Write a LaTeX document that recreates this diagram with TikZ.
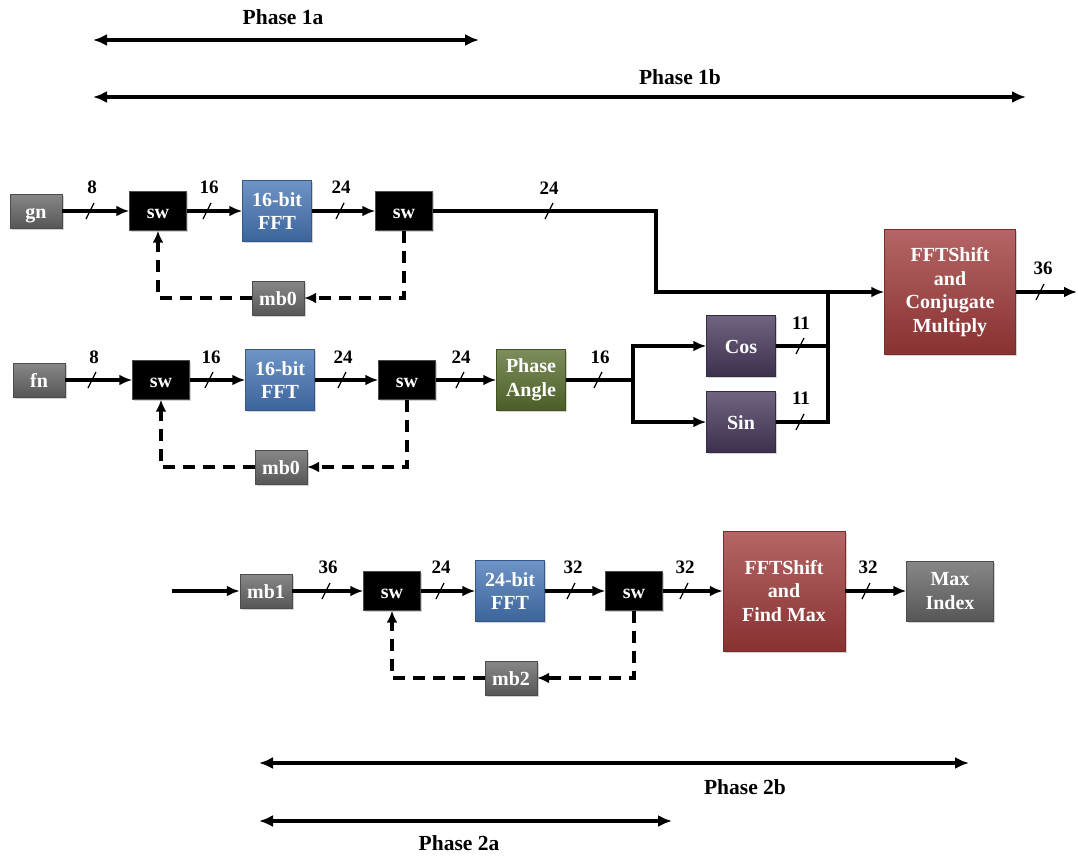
\documentclass[tikz,border=0pt]{standalone}
\usepackage{fontspec}
\setmainfont{Liberation Serif}
\usetikzlibrary{arrows.meta,shadows}
\newcommand\xc[1]{\smash{\raisebox{-2.5pt}{#1}}\vphantom{x}}
\begin{document}
\begin{tikzpicture}[x=1pt,y=-1pt,
  ln/.style={line width=3.2pt},
  arr/.style={ln,-{Latex[length=13pt,width=11pt]}},
  darr/.style={ln,dash pattern=on 12pt off 8pt,-{Latex[length=12pt,width=11pt]}},
  phasearr/.style={line width=3.2pt,{Latex[length=14pt,width=12pt]}-{Latex[length=14pt,width=12pt]}},
  phaselbl/.style={font=\fontsize{21.5}{24}\selectfont\bfseries},
  buslbl/.style={font=\fontsize{19}{21}\selectfont\bfseries},
  slash/.style={line width=1.3pt},
  box/.style={rectangle,inner sep=0pt,align=center,text=white,
     font=\fontsize{20}{23.5}\selectfont\bfseries,
     drop shadow={shadow xshift=1.5pt,shadow yshift=-1.5pt,opacity=0.35}},
  bevel/.style={top color=#1!78!white,middle color=#1,bottom color=#1!85!black,draw=#1!75!black},
  graybox/.style={box,bevel=gray1,minimum width=52pt,minimum height=34pt},
  swbox/.style={box,minimum width=57pt,minimum height=39pt,fill=black,draw=black!70},
  fftbox/.style={box,bevel=blue1,minimum width=69pt,minimum height=61pt},
  greenbox/.style={box,bevel=green1,minimum width=69pt,minimum height=61pt},
  purpbox/.style={box,bevel=purp1,minimum width=69pt,minimum height=61pt},
  redbox/.style={box,bevel=red1},
]
\definecolor{gray1}{RGB}{102,102,102}
\definecolor{blue1}{RGB}{70,118,182}
\definecolor{green1}{RGB}{88,110,46}
\definecolor{purp1}{RGB}{72,56,92}
\definecolor{red1}{RGB}{160,58,58}
\useasboundingbox (0,0) rectangle (1078,856);

% phases top
\node[phaselbl] (p1a) at (283,17) {Phase 1a};
\coordinate (p1aL) at (93,40); \coordinate (p1aR) at (479,40);
\draw[phasearr] (p1aL) -- (p1aR);
\node[phaselbl] (p1b) at (680,77) {Phase 1b};
\coordinate (p1bL) at (93,97); \coordinate (p1bR) at (1026,97);
\draw[phasearr] (p1bL) -- (p1bR);

% row 1
\node[graybox] (gn) at (36,211) {\xc{gn}};
\node[swbox] (sw1) at (158,211) {\xc{sw}};
\node[fftbox] (fft1) at (277,211) {16-bit\\FFT};
\node[swbox] (sw2) at (404,211) {\xc{sw}};
\node[graybox] (mb0a) at (278,298) {\xc{mb0}};
\node[redbox,minimum width=131pt,minimum height=125pt] (cm) at (950,292) {FFTShift\\and\\Conjugate\\Multiply};

\draw[arr] (gn) -- (sw1);
\draw[arr] (sw1) -- (fft1);
\draw[arr] (fft1) -- (sw2);
\coordinate (t1) at (656,211);
\draw[arr] (sw2) -- (t1) |- (cm.west);
\coordinate (o1) at (1077,292);
\draw[arr] (cm.east) -- (o1);
\draw[darr] (sw2.south) |- (mb0a.east);
\draw[darr] (mb0a.west) -| (sw1.south);

\node[buslbl] at (92,187) {8};
\node[buslbl] at (209,187) {16};
\node[buslbl] at (341,187) {24};
\node[buslbl] at (549,188) {24};
\node[buslbl] at (1043,268) {36};
\foreach \x/\y in {90/211,207/211,340/211,549/211,1040/292}
  \draw[slash] (\x-4,\y+8) -- (\x+4,\y-8);

% row 2
\node[graybox] (fn) at (39,380) {\xc{fn}};
\node[swbox] (sw3) at (161,380) {\xc{sw}};
\node[fftbox] (fft2) at (280,380) {16-bit\\FFT};
\node[swbox] (sw4) at (407,380) {\xc{sw}};
\node[greenbox] (pa) at (531,380) {Phase\\Angle};
\node[purpbox] (cos) at (741,346) {\xc{Cos}};
\node[purpbox] (sin) at (741,422) {\xc{Sin}};
\node[graybox] (mb0b) at (281,467) {\xc{mb0}};

\draw[arr] (fn) -- (sw3);
\draw[arr] (sw3) -- (fft2);
\draw[arr] (fft2) -- (sw4);
\draw[arr] (sw4) -- (pa);
\coordinate (b) at (633,380);
\draw[ln] (pa) -- (b);
\draw[arr] (b) |- (cos.west);
\draw[arr] (b) |- (sin.west);
\coordinate (m) at (828,292);
\draw[ln] (cos.east) -| (m);
\draw[ln] (sin.east) -| (m);
\draw[darr] (sw4.south) |- (mb0b.east);
\draw[darr] (mb0b.west) -| (sw3.south);

\node[buslbl] at (94,357) {8};
\node[buslbl] at (211,357) {16};
\node[buslbl] at (343,357) {24};
\node[buslbl] at (461,357) {24};
\node[buslbl] at (600,357) {16};
\node[buslbl] at (801,323) {11};
\node[buslbl] at (801,398) {11};
\foreach \x/\y in {92/380,209/380,342/380,460/380,598/380,800/346,800/422}
  \draw[slash] (\x-4,\y+8) -- (\x+4,\y-8);

% row 3
\coordinate (in3) at (172,591);
\node[graybox] (mb1) at (266,591) {\xc{mb1}};
\node[swbox] (sw5) at (392,591) {\xc{sw}};
\node[fftbox] (fft3) at (510,591) {24-bit\\FFT};
\node[swbox] (sw6) at (634,591) {\xc{sw}};
\node[redbox,minimum width=122pt,minimum height=120pt] (fm) at (784,591) {FFTShift\\and\\Find Max};
\node[graybox,minimum width=87pt,minimum height=60pt] (mi) at (950,591) {Max\\Index};
\node[graybox] (mb2) at (511,678) {\xc{mb2}};

\draw[arr] (in3) -- (mb1);
\draw[arr] (mb1) -- (sw5);
\draw[arr] (sw5) -- (fft3);
\draw[arr] (fft3) -- (sw6);
\draw[arr] (sw6) -- (fm);
\draw[arr] (fm) -- (mi);
\draw[darr] (sw6.south) |- (mb2.east);
\draw[darr] (mb2.west) -| (sw5.south);

\node[buslbl] at (328,567) {36};
\node[buslbl] at (441,567) {24};
\node[buslbl] at (573,567) {32};
\node[buslbl] at (685,567) {32};
\node[buslbl] at (868,567) {32};
\foreach \x/\y in {326/591,440/591,571/591,684/591,866/591}
  \draw[slash] (\x-4,\y+8) -- (\x+4,\y-8);

% phases bottom
\coordinate (p2bL) at (259,763); \coordinate (p2bR) at (969,763);
\draw[phasearr] (p2bL) -- (p2bR);
\node[phaselbl] (p2b) at (745,787) {Phase 2b};
\coordinate (p2aL) at (259,821); \coordinate (p2aR) at (672,821);
\draw[phasearr] (p2aL) -- (p2aR);
\node[phaselbl] (p2a) at (459,843) {Phase 2a};
\end{tikzpicture}
\end{document}
